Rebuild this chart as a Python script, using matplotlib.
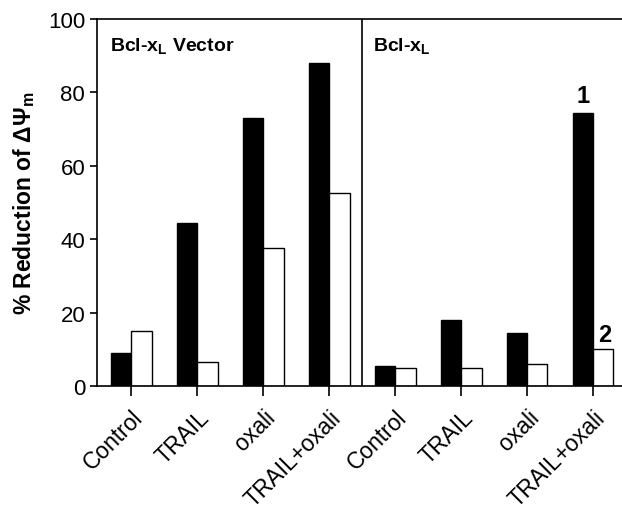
import matplotlib
matplotlib.use("Agg")
import matplotlib.pyplot as plt
import numpy as np

plt.rcParams['font.family'] = ['Liberation Sans', 'DejaVu Sans']
plt.rcParams['mathtext.fontset'] = 'custom'
plt.rcParams['mathtext.rm'] = 'Liberation Sans'
plt.rcParams['mathtext.bf'] = 'Liberation Sans:bold'
plt.rcParams['mathtext.it'] = 'Liberation Sans:italic'

categories = ["Control", "TRAIL", "oxali", "TRAIL+oxali",
              "Control", "TRAIL", "oxali", "TRAIL+oxali"]
black_vals = [9, 44.5, 73, 88, 5.5, 18, 14.5, 74.5]
white_vals = [15, 6.5, 37.5, 52.5, 5, 5, 6, 10]
panel_titles = [r"Bcl-x$_\mathbf{L}$ Vector", r"Bcl-x$_\mathbf{L}$"]
bar_labels = ["1", "2"]

fig = plt.figure(figsize=(6.22, 5.10), dpi=100)
ax = fig.add_axes([97/622, 1 - 387/510, (622-97)/622, (387-20)/510])

x = np.arange(len(categories))
w = 0.31
ax.bar(x - w/2, black_vals, width=w, color='black', edgecolor='black', linewidth=1.0)
ax.bar(x + w/2, white_vals, width=w, color='white', edgecolor='black', linewidth=1.0)

ax.set_xlim(-0.52, 7.44)
ax.set_ylim(0, 100)
ax.set_yticks([0, 20, 40, 60, 80, 100])
ax.set_xticks(x)
ax.set_xticklabels(categories, rotation=45, ha='right', rotation_mode='anchor', fontsize=16.5)
ax.tick_params(axis='y', labelsize=16, direction='out', length=5, width=1.2)
ax.tick_params(axis='x', direction='out', length=7, width=1.2, pad=7)

for s in ['left', 'bottom', 'top']:
    ax.spines[s].set_linewidth(1.2)
ax.spines['right'].set_visible(False)

ax.axvline(3.5, color='black', linewidth=1.2)

ax.text(-0.32, 93, panel_titles[0], fontsize=14, fontweight='bold', va='center', ha='left')
ax.text(3.67, 93, panel_titles[1], fontsize=14, fontweight='bold', va='center', ha='left')

ax.text(7 - w/2, black_vals[7] + 1.5, bar_labels[0], fontsize=17, fontweight='bold', ha='center', va='bottom')
ax.text(7 + w/2 + 0.03, white_vals[7] + 1.0, bar_labels[1], fontsize=17, fontweight='bold', ha='center', va='bottom')

ax.set_ylabel("% Reduction of ΔΨ$_\\mathbf{m}$", fontsize=16.5, fontweight='bold', labelpad=8)

fig.savefig("out.png", dpi=100)
